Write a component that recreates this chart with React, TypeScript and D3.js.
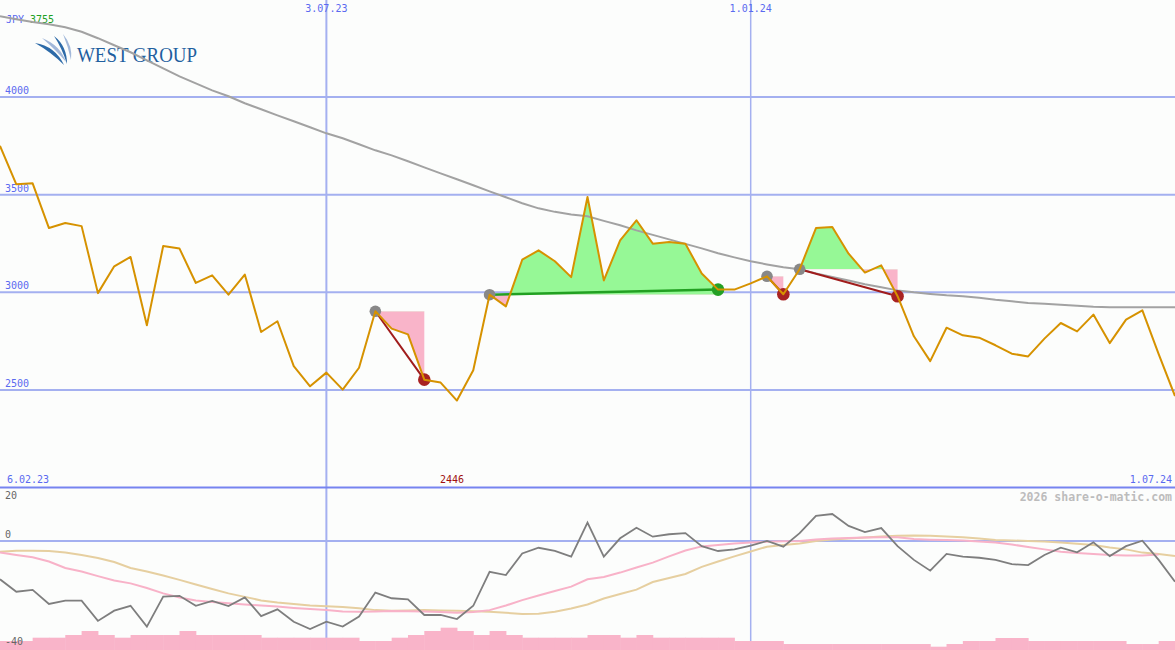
import React from "react";
import * as d3 from "d3";

const W = 1175;
const H = 650;

const START_DATE = new Date(2023, 1, 13);
const END_DATE = new Date(2024, 6, 1);

const price = [
  3750, 3553, 3558, 3329, 3355, 3339, 2996, 3133, 3181, 2831,
  3237, 3224, 3048, 3087, 2988, 3091, 2797, 2852, 2622, 2519,
  2589, 2502, 2614, 2903, 2814, 2785, 2553, 2538, 2446, 2601,
  2988, 2928, 3167, 3215, 3159, 3078, 3488, 3061, 3266, 3369,
  3249, 3258, 3249, 3096, 3014, 3014, 3046, 3082, 2990, 3118,
  3329, 3334, 3198, 3101, 3138, 2980, 2775, 2648, 2819, 2780,
  2768, 2729, 2686, 2672, 2763, 2843, 2800, 2886, 2740, 2860,
  2908, 2684, 2469,
];

const longAvg = [
  4413, 4398, 4384, 4372, 4357, 4334, 4301, 4265, 4229, 4188,
  4147, 4106, 4070, 4034, 4004, 3968, 3937, 3906, 3876, 3845,
  3814, 3789, 3758, 3727, 3701, 3671, 3640, 3609, 3579, 3548,
  3517, 3487, 3456, 3430, 3412, 3399, 3389, 3366, 3343, 3317,
  3294, 3271, 3248, 3225, 3200, 3179, 3159, 3143, 3128, 3118,
  3097, 3079, 3061, 3041, 3026, 3010, 3000, 2992, 2985, 2980,
  2972, 2962, 2954, 2946, 2941, 2936, 2931, 2926, 2923, 2923,
  2923, 2923, 2923,
];

const momentum = [
  -14.2, -18.8, -18.1, -23.3, -22.1, -22.1, -29.6, -25.8, -24, -31.7,
  -20.6, -20.3, -24, -22.2, -24.1, -20.9, -27.8, -25.3, -29.9, -32.6,
  -29.9, -31.7, -28, -19.1, -21.2, -21.6, -27.4, -27.4, -28.9, -24,
  -11.4, -12.6, -4.6, -2.5, -3.7, -5.8, 6.8, -5.8, 1, 4.9,
  1.6, 2.5, 2.9, -1.9, -3.7, -3.1, -1.7, 0, -2.1, 2.9,
  9.3, 10, 5.6, 3.3, 4.8, -1.9, -7, -11, -4.8, -5.8,
  -6.2, -7, -8.6, -8.9, -5.2, -2.5, -4.2, -0.5, -5.6, -1.9,
  0.1, -7, -15.1,
];

const signalPink = [
  -4.3, -5.2, -6.0, -7.6, -10.0, -11.3, -13.0, -14.6, -15.7, -17.4,
  -19.4, -20.9, -22.0, -22.6, -23.1, -23.5, -23.9, -24.3, -24.8, -25.2,
  -25.6, -26.1, -26.2, -26.1, -25.9, -26.0, -26.1, -26.3, -26.6, -26.3,
  -25.6, -23.9, -21.9, -20.2, -18.5, -16.9, -14.2, -13.3, -11.7, -9.8,
  -8.0, -5.7, -3.5, -2.0, -1.5, -0.9, -0.6, -0.3, -0.1, 0,
  0.6, 0.9, 1.1, 1.3, 1.4, 1.4, 0.7, 0.5, 0.4, 0.2,
  -0.2, -0.6, -1.3, -2.2, -3.1, -4.0, -4.4, -4.8, -5.2, -5.4,
  -5.4, -5.0,
];

const signalTan = [
  -4.0, -3.6, -3.6, -3.7, -4.3, -5.2, -6.3, -7.8, -10.0, -11.3,
  -12.8, -14.4, -16.1, -17.8, -19.4, -20.7, -22.0, -22.8, -23.3, -23.9,
  -24.2, -24.4, -24.9, -25.6, -25.8, -25.7, -25.6, -25.7, -25.8, -26.0,
  -26.2, -26.6, -27.0, -26.9, -26.2, -25.0, -23.5, -21.3, -19.6, -18.0,
  -15.2, -13.7, -12.2, -9.6, -7.6, -5.7, -3.9, -2.1, -1.5, -0.9,
  0, 0.6, 0.9, 1.3, 1.7, 1.9, 2.0, 1.9, 1.7, 1.4,
  0.9, 0.4, 0.2, 0, -0.2, -0.6, -1.0, -1.5, -2.4, -3.1,
  -4.3, -4.8, -5.6,
];

const volume = [
  0.9, 0.9, 1.23, 1.23, 1.5, 1.9, 1.5, 1.23, 1.5, 1.5,
  1.5, 1.9, 1.5, 1.5, 1.5, 1.5, 1.23, 1.23, 1.23, 1.23,
  1.23, 1.23, 0.9, 0.9, 1.23, 1.5, 1.9, 2.23, 1.9, 1.5,
  1.9, 1.5, 1.23, 1.23, 1.23, 1.23, 1.5, 1.5, 1.23, 1.5,
  1.23, 1.23, 1.23, 1.23, 1.23, 0.9, 0.9, 0.9, 0.6, 0.6,
  0.6, 0.6, 0.6, 0.6, 0.6, 0.6, 0.6, 0.33, 0.6, 0.9,
  0.9, 1.2, 1.2, 0.9, 0.9, 0.9, 0.9, 0.9, 0.9, 0.6,
  0.6, 0.9,
];

// signal episodes: start index, end index, outcome
const signals = [
  { start: 23, end: 26, outcome: "down" },
  { start: 30, end: 44, outcome: "up" },
  { start: 47, end: 48, outcome: "down" },
  { start: 49, end: 55, outcome: "down" },
];

const priceTicks = [4000, 3500, 3000, 2500];
const indTicks = [20, 0, -40];
const gridDates = [new Date(2023, 6, 3), new Date(2024, 0, 1)];
const gridDateLabels = ["3.07.23", "1.01.24"];
const edgeLabels = ["6.02.23", "1.07.24"];
const currency = "JPY";
const headlineValue = "3755";
const watermark = "2026 share-o-matic.com";

const dates = price.map((_, i) => d3.timeWeek.offset(START_DATE, i));

const MONO = "'DejaVu Sans Mono', monospace";
const GRID = "#a4b0f0";
const LABEL_BLUE = "#5a6af0";
const GREEN_FILL = "#96f896";
const PINK_FILL = "#f9b4c9";

export default function App() {
  const x = d3.scaleTime().domain([START_DATE, END_DATE]).range([0, W]);
  const y = d3.scaleLinear().domain([2500, 4000]).range([390, 97]);
  const yi = d3.scaleLinear().domain([-40, 20]).range([649, 487]);
  const vh = d3.scaleLinear().domain([0, 1]).range([0, 10]);

  const priceLine = d3
    .line<number>()
    .x((_, i) => x(dates[i]))
    .y((d) => y(d));
  const indLine = d3
    .line<number>()
    .x((_, i) => x(dates[i]))
    .y((d) => yi(d));

  const minIdx = d3.minIndex(price);

  const fills = signals.map((s, k) => {
    const level = price[s.start];
    const idx = d3.range(s.start, s.end + 1);
    const area = d3
      .area<number>()
      .x((i) => x(dates[i]))
      .y0(() => y(level))
      .y1((i) => y(price[i]));
    const ly = y(level);
    const x0 = x(dates[s.start]);
    const x1 = x(dates[s.end]);
    return (
      <g key={"f" + k}>
        <defs>
          <clipPath id={"above" + k}>
            <rect x={x0 - 1} y={0} width={x1 - x0 + 2} height={ly} />
          </clipPath>
          <clipPath id={"below" + k}>
            <rect x={x0 - 1} y={ly} width={x1 - x0 + 2} height={H - ly} />
          </clipPath>
        </defs>
        <path d={area(idx) || ""} fill={GREEN_FILL} clipPath={`url(#above${k})`} />
        <path d={area(idx) || ""} fill={PINK_FILL} clipPath={`url(#below${k})`} />
      </g>
    );
  });

  return (
    <div style={{ position: "absolute", left: 0, top: 0 }}>
      <style>{"body{margin:0}"}</style>
      <svg width={W} height={H} style={{ display: "block", background: "#fcfdfc" }}>
        <rect x={0} y={0} width={W} height={H} fill="#fcfdfc" />

        {/* horizontal price grid */}
        {priceTicks.map((t) => (
          <g key={"pt" + t}>
            <line x1={0} x2={W} y1={y(t)} y2={y(t)} stroke={GRID} strokeWidth={2} />
            <text x={5} y={y(t) - 3} fontFamily={MONO} fontSize={10} fill={LABEL_BLUE}>
              {t}
            </text>
          </g>
        ))}

        {/* vertical date grid */}
        {gridDates.map((d, k) => (
          <g key={"gd" + k}>
            <line x1={x(d)} x2={x(d)} y1={0} y2={H} stroke={GRID} strokeWidth={k === 0 ? 2 : 1.5} />
            <text x={x(d)} y={12} textAnchor="middle" fontFamily={MONO} fontSize={10} fill={LABEL_BLUE}>
              {gridDateLabels[k]}
            </text>
          </g>
        ))}

        {/* indicator zero line */}
        <line x1={0} x2={W} y1={yi(0)} y2={yi(0)} stroke={GRID} strokeWidth={2} />
        {/* separator */}
        <line x1={0} x2={W} y1={487.5} y2={487.5} stroke="#7684f0" strokeWidth={2} />

        {/* logo */}
        <g>
          <path d="M35,43 Q55,46 64,65 Q51,52 35,43 Z" fill="#2c6aa8" />
          <path d="M42,38 Q60,45 66,62 Q56,50 42,38 Z" fill="#a2b8da" />
          <path d="M54,36 Q67,46 67,64 Q62,48 54,36 Z" fill="#2c6aa8" />
          <path d="M63,34 Q73,46 71,60 Q68,46 63,34 Z" fill="#a2b8da" />
        </g>
        <text
          x={77}
          y={62}
          fontFamily="'Liberation Serif', serif"
          fontSize={20}
          fill="#1f5f9f"
          textLength={120}
          lengthAdjust="spacingAndGlyphs"
        >
          WEST GROUP
        </text>

        {/* header */}
        <text x={6} y={23} fontFamily={MONO} fontSize={10}>
          <tspan fill={LABEL_BLUE}>{currency}</tspan>
          <tspan fill="#22a022" dx={6}>{headlineValue}</tspan>
        </text>

        {/* signal fills */}
        {fills}

        {/* long moving average */}
        <path d={priceLine(longAvg) || ""} fill="none" stroke="#a2a2a2" strokeWidth={2} />

        {/* signal connecting lines and markers */}
        {signals.map((s, k) => {
          const xs = x(dates[s.start]);
          const xe = x(dates[s.end]);
          const col = s.outcome === "up" ? "#22a022" : "#a01c1c";
          return (
            <g key={"s" + k}>
              <line
                x1={xs}
                y1={y(price[s.start])}
                x2={xe}
                y2={y(price[s.end])}
                stroke={col}
                strokeWidth={s.outcome === "up" ? 2.5 : 2}
              />
              <circle cx={xs} cy={y(price[s.start])} r={5.8} fill="#888888" />
              <circle cx={xe} cy={y(price[s.end])} r={6.3} fill={s.outcome === "up" ? "#24a024" : "#a82222"} />
            </g>
          );
        })}

        {/* price line */}
        <path d={priceLine(price) || ""} fill="none" stroke="#d69200" strokeWidth={2} strokeLinejoin="round" />

        {/* bottom labels of price panel */}
        <text x={7} y={483} fontFamily={MONO} fontSize={10} fill={LABEL_BLUE}>
          {edgeLabels[0]}
        </text>
        <text x={W - 3} y={483} textAnchor="end" fontFamily={MONO} fontSize={10} fill={LABEL_BLUE}>
          {edgeLabels[1]}
        </text>
        <text x={x(dates[minIdx]) - 5} y={483} textAnchor="middle" fontFamily={MONO} fontSize={10} fill="#a01010">
          {price[minIdx]}
        </text>

        {/* watermark */}
        <text
          x={W - 3}
          y={501}
          textAnchor="end"
          fontFamily={MONO}
          fontSize={11.5}
          fontWeight="bold"
          fill="#bcbcbc"
        >
          {watermark}
        </text>

        {/* volume bars */}
        {volume.map((v, i) => {
          const x0 = x(dates[i]);
          const x1 = x(dates[i + 1] || END_DATE);
          return <rect key={"v" + i} x={x0} y={H - vh(v)} width={x1 - x0 + 0.5} height={vh(v)} fill={PINK_FILL} />;
        })}

        {/* indicator lines */}
        <path d={indLine(signalTan) || ""} fill="none" stroke="#e6cfa0" strokeWidth={2} />
        <path d={indLine(signalPink) || ""} fill="none" stroke="#f8b2c8" strokeWidth={2} />
        <path d={indLine(momentum) || ""} fill="none" stroke="#7e7e7e" strokeWidth={1.8} />

        {/* indicator labels */}
        {indTicks.map((t) => (
          <text
            key={"it" + t}
            x={5}
            y={t === 20 ? 499 : t === 0 ? 538 : 645}
            fontFamily={MONO}
            fontSize={10}
            fill="#666666"
          >
            {t}
          </text>
        ))}
      </svg>
    </div>
  );
}
